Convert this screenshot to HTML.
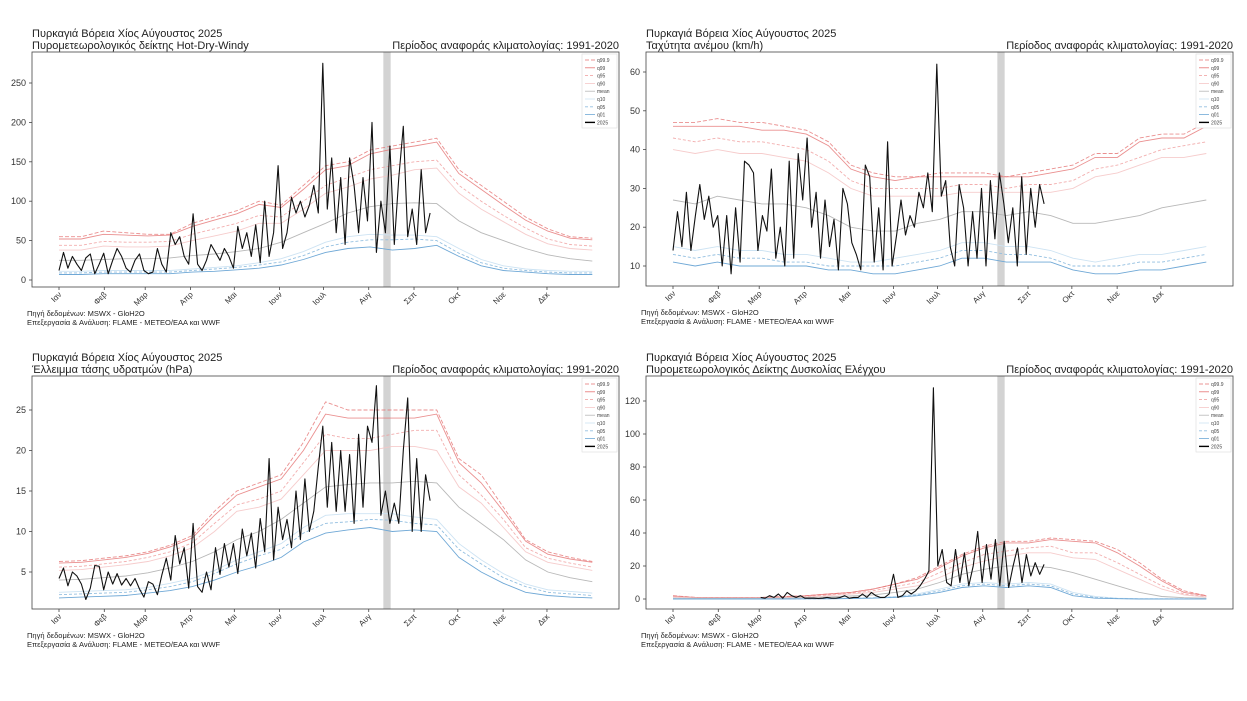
<!DOCTYPE html>
<html><head><meta charset="utf-8">
<style>
html,body{margin:0;padding:0;background:#fff;}
svg{display:block;font-family:"Liberation Sans","DejaVu Sans",sans-serif;}
</style></head>
<body>
<svg id="root" width="1247" height="701" viewBox="0 0 1247 701" xmlns="http://www.w3.org/2000/svg"></svg>
<script>
// ---------- shared data ----------
const monthLabels = ["Ιαν","Φεβ","Μαρ","Απρ","Μαι","Ιουν","Ιουλ","Αυγ","Σεπ","Οκτ","Νοε","Δεκ"];
const monthStartDays = [0,31,59,90,120,151,181,212,243,273,304,334];
const legendLabels = ["q99.9","q99","q95","q90","mean","q10","q05","q01","2025"];
const fireBand = [222,227];

// ---- Panel 1: HDW ----
const hdwTicks = [0,50,100,150,200,250];
const hdwQ999 = [55,55,62,60,58,58,72,80,88,100,95,120,145,150,165,170,175,180,140,120,100,80,65,55,53];
const hdwQ99  = [52,52,58,57,56,57,68,76,84,96,92,115,140,145,160,166,170,175,135,115,95,76,62,53,51];
const hdwQ95  = [44,44,49,48,48,49,58,65,72,82,80,100,120,130,140,145,150,152,120,100,82,66,52,45,43];
const hdwQ90  = [38,38,43,42,42,43,50,56,62,72,72,90,110,118,128,133,140,142,110,90,74,58,46,40,38];
const hdwMean = [25,25,26,27,27,28,31,33,36,40,48,60,72,85,93,97,98,97,75,60,50,40,32,27,24];
const hdwQ10  = [11,11,12,12,12,12,14,16,18,22,27,36,48,55,58,57,57,55,40,26,18,14,12,11,11];
const hdwQ05  = [9,9,10,10,10,10,12,14,16,19,23,31,42,48,51,51,52,50,34,22,15,12,10,9,9];
const hdwQ01  = [7,7,8,8,8,8,10,11,13,15,19,26,35,40,42,38,40,44,30,18,12,10,8,7,7];
const hdw2025 = [12,35,15,30,20,12,28,33,8,20,34, 8,25,40,30,15,10,25,33,12,
  8,10,40,20,10,60,45,55,30,20, 84,20,12,25,45,35,25,40,30,15,
  68,40,60,30,70,22,100,30,60,145, 40,60,105,85,100,80,95,120,85,275,
  90,155,60,130,45,155,120,60,130,75, 200,35,100,60,170,45,130,195,55,90, 45,140,60,85];

// ---- Panel 2: wind ----
const windTicks = [10,20,30,40,50,60];
const windQ999 = [47,47,48,47,47,46,45,42,36,34,33,33,34,34,34,33,34,35,36,39,39,43,44,44,47];
const windQ99  = [46,46,46,46,45,45,44,41,35,33,32,33,33,33,33,33,33,34,35,38,38,42,43,43,46];
const windQ95  = [43,42,43,42,42,41,40,37,32,30,30,30,30,31,31,30,31,31,32,35,36,38,40,41,42];
const windQ90  = [40,39,40,39,39,38,37,34,30,28,28,28,28,29,29,29,29,29,30,33,34,36,38,38,39];
const windMean = [27,26,28,27,26,26,25,23,20,19,19,21,22,24,24,23,24,23,21,21,22,23,25,26,27];
const windQ10  = [15,14,15,14,14,13,13,12,11,11,12,13,14,16,16,15,15,14,12,11,12,13,13,14,15];
const windQ05  = [13,12,13,12,12,11,11,10,10,10,10,11,12,14,14,13,13,12,10,10,10,11,11,12,13];
const windQ01  = [11,10,11,10,10,10,10,9,9,8,8,9,10,12,12,11,11,11,9,8,8,9,9,10,11];
const wind2025 = [14,24,15,29,14,23,31,22,28,20,23, 10,23,8,25,11,37,36,34,14,
  23,19,35,12,20,10,37,12,39,27, 43,20,29,12,27,15,22,9,30,26,
  16,13,9,36,33,11,25,9,42,10, 18,27,18,23,20,29,25,34,24,62,
  28,32,15,10,31,25,10,24,12,30, 10,32,17,34,26,16,25,10,33,13, 30,20,31,26];

// ---- Panel 3: VPD ----
const vpdTicks = [5,10,15,20,25];
const vpdQ999 = [6.3,6.4,6.7,7.0,7.5,8.3,9.5,12.5,15,16,17,21,26,25,25,25,25,25,19,17,13,9,7.5,6.8,6.3];
const vpdQ99  = [6.1,6.2,6.5,6.8,7.3,8.1,9.2,12,14.5,15.5,16.5,20,24.5,24,24,24,24,24.5,18.5,16,12.5,8.8,7.2,6.6,6.2];
const vpdQ95  = [5.6,5.7,6,6.3,6.8,7.5,8.6,11,13.3,14,15,18.5,22,21.5,21.5,22,22.5,22.5,17,14.5,11.5,8,6.7,6.1,5.6];
const vpdQ90  = [5.2,5.3,5.6,5.9,6.3,7,8,10,12.5,13,14,17,20,20,20,20.5,20.5,20,15.5,13.5,10.5,7.5,6.2,5.7,5.2];
const vpdMean = [4,4.1,4.3,4.5,4.9,5.5,6.3,7.5,9,10,11.5,13.5,15.5,15.8,16,16,16.2,16,13,11,9,6.5,5,4.3,3.8];
const vpdQ10  = [2.5,2.6,2.7,2.8,3.1,3.6,4.2,5.2,6.5,7.5,8.5,10.5,12,12.2,12.2,12.2,11.8,11.5,8.5,6.5,4.8,3.5,2.8,2.6,2.4];
const vpdQ05  = [2.2,2.3,2.4,2.5,2.8,3.2,3.8,4.8,6,7,7.8,9.8,11,11.2,11.5,11.4,11,10.8,7.8,6,4.3,3.2,2.5,2.3,2.1];
const vpdQ01  = [1.8,1.9,2,2.1,2.4,2.7,3.2,4,5,5.8,6.8,8.7,9.8,10.2,10.5,10,10.2,10,6.8,5,3.6,2.5,2.1,1.9,1.8];
const vpd2025 = [4.2,5.5,3.3,5,4.5,3.5,1.6,3,5.8,5.7,2.8, 5,3.5,4.8,3.4,4.2,3.3,4.2,2.9,1.9,
  3.8,3.5,2.2,4.6,6.7,4,9.5,6,8,3, 11,3.2,2.5,5,2.8,8,4.7,8.5,5.6,8.5,
  4.8,10.3,7,9.8,5.5,11.6,7.5,19,6.5,13, 9,11.5,8,15,9,16.5,10,12.5,18,23,
  13,21,12.5,20,12.5,19.5,11,22,13,23, 21,28,12,15,11,13.5,11,20,26.5,10, 19,10,17,13.8];

// ---- Panel 4: control difficulty ----
const cdTicks = [0,20,40,60,80,100,120];
const cdQ999 = [2,1,1,1,1,1.5,2,3,4,6,9,13,20,27,32,35,35,37,36,35,30,22,12,5,2];
const cdQ99  = [1.8,1,1,1,1,1.3,2,3,4,6,9,12,19,26,31,34,34,36,35,34,28,20,11,4,2];
const cdQ95  = [1.5,.8,.8,.8,.8,1,1.5,2.5,3.5,5,7.5,10,16,22,27,29,31,32,28,28,22,15,8,3,1.5];
const cdQ90  = [1.2,.6,.6,.6,.6,.8,1.2,2,3,4,6,8,13,19,23,26,28,28,25,24,18,12,6,2.5,1.2];
const cdMean = [.5,.4,.4,.4,.4,.5,.8,1.2,1.8,2.5,4,6,10,15,18,20,20,19,16,12,8,4,1.5,.8,.5];
const cdQ10  = [.2,.1,.1,.1,.1,.1,.2,.3,.5,.8,1.5,3,6,9,10,9,10,9,4,1.5,.5,.2,.1,.1,.1];
const cdQ05  = [.1,.1,.1,.1,.1,.1,.1,.2,.4,.6,1.2,2.5,5,8,9,8,9,8,3,1,.3,.1,.1,.1,.1];
const cdQ01  = [0,0,0,0,0,0,.1,.1,.3,.5,1,2,4,7,8,7,8,7,2,.5,.2,0,0,0,0];
const cd2025 = [1,0.5,2,1,3,0.5,4,2,1,2, 0.5,0.5,0.5,0.3,0.5,1,0.5,0.5,1,2,
  0.5,1,1,3,1,4,2,1,1,3, 15,1,2,5,3,5,8,12,17,128,
  20,30,10,8,30,10,28,8,20,41, 10,33,12,36,8,35,7,20,31,10, 27,14,22,15,21];

// ---------- drawing ----------
const NS = "http://www.w3.org/2000/svg";
const root = document.getElementById('root');
function mk(tag, attrs, parent){
  const e = document.createElementNS(NS, tag);
  for (const k in attrs) e.setAttribute(k, attrs[k]);
  (parent||root).appendChild(e);
  return e;
}
const styles = [
  {c:"#e57373", w:0.9, d:"4,2", o:0.8},
  {c:"#e57373", w:0.9, d:"", o:0.8},
  {c:"#ef9a9a", w:0.9, d:"3,2", o:0.8},
  {c:"#f5c6c6", w:0.9, d:"", o:0.9},
  {c:"#b8b8b8", w:0.9, d:"", o:1},
  {c:"#cde3f3", w:0.9, d:"", o:1},
  {c:"#93bfe0", w:0.9, d:"3,2", o:1},
  {c:"#6fa8d6", w:0.9, d:"", o:1},
  {c:"#000", w:1.2, d:"", o:0.85}
];

function panel(cfg){
  const g = mk('g', {});
  
  
  const L=cfg.left, R=cfg.right, T=cfg.top, B=cfg.bottom;
  const xDay = d => cfg.jan + d*1.461;
  const yVal = v => cfg.y0px + (v - cfg.v0) * (cfg.y1px - cfg.y0px)/(cfg.v1 - cfg.v0);

  const t1 = mk('text', {x:L, y:T-15, 'font-size':11, fill:'#222'}, g);
  t1.textContent = "Πυρκαγιά Βόρεια Χίος Αύγουστος 2025";
  
  
  const t2 = mk('text', {x:L, y:T-3, 'font-size':11, fill:'#222'}, g);
  t2.textContent = cfg.subtitle;
  
  
  const t3 = mk('text', {x:R, y:T-3, 'font-size':11, fill:'#222', 'text-anchor':'end'}, g);
  t3.textContent = "Περίοδος αναφοράς κλιματολογίας: 1991-2020";
  
  

  const clipId = 'clip-' + cfg.name;
  const cp = mk('clipPath', {id:clipId}, g);
  mk('rect', {x:L, y:T, width:R-L, height:B-T}, cp);

  const band = mk('rect', {x:xDay(fireBand[0]), y:T, width:xDay(fireBand[1])-xDay(fireBand[0]), height:B-T, fill:'#d3d3d3'}, g);
  
  

  const inner = mk('g', {'clip-path':'url(#'+clipId+')'}, g);
  const qs = cfg.quant;
  const qnames = ["q999","q99","q95","q90","mean","q10","q05","q01"];
  qs.forEach((arr, i) => {
    const n = arr.length;
    const pts = arr.map((v,j) => xDay(j*365/(n-1)).toFixed(1)+','+yVal(v).toFixed(1)).join(' ');
    const s = styles[i];
    const pl = mk('polyline', {points:pts, fill:'none', stroke:s.c, 'stroke-width':s.w, 'stroke-dasharray':s.d, opacity:s.o}, inner);
    
    
  });
  const obs = cfg.obs, n = obs.length;
  const step = (cfg.obsEnd - cfg.obsStart)/(n-1);
  const pts = obs.map((v,j) => xDay(cfg.obsStart + j*step).toFixed(1)+','+yVal(v).toFixed(1)).join(' ');
  const ol = mk('polyline', {points:pts, fill:'none', stroke:'#111', 'stroke-width':1.1, 'stroke-linejoin':'round'}, inner);
  
  

  const frame = mk('rect', {x:L, y:T, width:R-L, height:B-T, fill:'none', stroke:'#444', 'stroke-width':0.8}, g);
  
  

  cfg.ticks.forEach(v => {
    const y = yVal(v);
    mk('line', {x1:L-3, x2:L, y1:y, y2:y, stroke:'#444', 'stroke-width':0.8}, g);
    const tl = mk('text', {x:L-6, y:y+3, 'font-size':9, fill:'#333', 'text-anchor':'end'}, g);
    tl.textContent = v;
    
    
  });
  monthLabels.forEach((m,i) => {
    const x = xDay(monthStartDays[i]);
    mk('line', {x1:x, x2:x, y1:B, y2:B+3, stroke:'#444', 'stroke-width':0.8}, g);
    const ml = mk('text', {x:x+3, y:B+8, 'font-size':8, fill:'#333', 'text-anchor':'end', transform:'rotate(-45 '+(x+3)+' '+(B+8)+')'}, g);
    ml.textContent = m;
    
    
  });

  const lg = mk('g', {}, g);
  
  
  mk('rect', {x:R-37, y:T+2, width:35, height:74, fill:'#fff', stroke:'#ddd', 'stroke-width':0.6}, lg);
  legendLabels.forEach((lab,i) => {
    const y = T+8+i*7.8, s = styles[i];
    mk('line', {x1:R-34, x2:R-24, y1:y, y2:y, stroke:s.c, 'stroke-width':i==8?1.4:0.8, 'stroke-dasharray':s.d}, lg);
    const lt = mk('text', {x:R-22, y:y+2, 'font-size':5, fill:'#444'}, lg);
    lt.textContent = lab;
    
    
  });

  const f1 = mk('text', {x:L-5, y:B+29, 'font-size':7.5, fill:'#222'}, g);
  f1.textContent = "Πηγή δεδομένων: MSWX - GloH2O";
  
  
  const f2 = mk('text', {x:L-5, y:B+38, 'font-size':7.5, fill:'#222'}, g);
  f2.textContent = "Επεξεργασία & Ανάλυση: FLAME - METEO/EAA και WWF";
  
  
}

panel({name:'hdw-panel', subtitle:'Πυρομετεωρολογικός δείκτης Hot-Dry-Windy',
  left:32, right:619, top:52, bottom:287, jan:59, v0:0, y0px:280, v1:250, y1px:83,
  ticks:hdwTicks, quant:[hdwQ999,hdwQ99,hdwQ95,hdwQ90,hdwMean,hdwQ10,hdwQ05,hdwQ01],
  obs:hdw2025, obsStart:0, obsEnd:254});
panel({name:'wind-panel', subtitle:'Ταχύτητα ανέμου (km/h)',
  left:646, right:1233, top:52, bottom:286, jan:673, v0:10, y0px:266, v1:60, y1px:72,
  ticks:windTicks, quant:[windQ999,windQ99,windQ95,windQ90,windMean,windQ10,windQ05,windQ01],
  obs:wind2025, obsStart:0, obsEnd:254});
panel({name:'vpd-panel', subtitle:'Έλλειμμα τάσης υδρατμών (hPa)',
  left:32, right:619, top:376, bottom:609, jan:59, v0:5, y0px:572, v1:25, y1px:410,
  ticks:vpdTicks, quant:[vpdQ999,vpdQ99,vpdQ95,vpdQ90,vpdMean,vpdQ10,vpdQ05,vpdQ01],
  obs:vpd2025, obsStart:0, obsEnd:254});
panel({name:'control-difficulty-panel', subtitle:'Πυρομετεωρολογικός Δείκτης Δυσκολίας Ελέγχου',
  left:646, right:1233, top:376, bottom:609, jan:673, v0:0, y0px:599, v1:120, y1px:401,
  ticks:cdTicks, quant:[cdQ999,cdQ99,cdQ95,cdQ90,cdMean,cdQ10,cdQ05,cdQ01],
  obs:cd2025, obsStart:60, obsEnd:254});
</script>
</body></html>
